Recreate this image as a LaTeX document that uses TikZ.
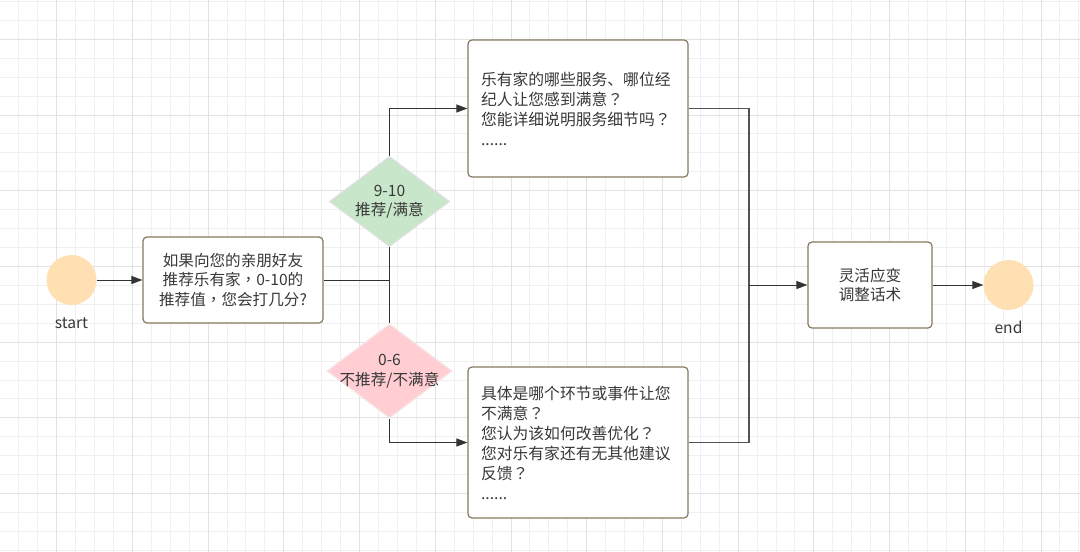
\documentclass[tikz,border=0pt]{standalone}
\usepackage{fontspec}
\setmainfont{Noto Sans CJK SC}
\newfontfamily\tcpunct{Noto Sans CJK TC}
\newcommand{\fq}{{\tcpunct ？}}
\newcommand{\fc}{{\tcpunct ，}}
\usetikzlibrary{shapes.geometric,arrows.meta}
\definecolor{txt}{HTML}{383838}
\definecolor{boxline}{HTML}{857A60}
\definecolor{peach}{HTML}{FFE0B2}
\definecolor{gfill}{HTML}{C8E6C9}
\definecolor{pfill}{HTML}{FFCDD2}
\definecolor{gminor}{HTML}{F0F0F0}
\definecolor{gmajor}{HTML}{E2E2E2}
\definecolor{conn}{HTML}{333333}
\tikzset{
  every node/.style={text=txt, font=\fontsize{15.6}{19.5}\selectfont},
  stepbox/.style={draw=boxline, line width=1.2pt, rounded corners=4pt, fill=white, inner sep=0pt},
  qbox/.style={stepbox, align=left, text width=194pt, inner xsep=13pt, inner ysep=0pt, minimum height=137pt, font=\fontsize{15.8}{20}\selectfont},
  endpt/.style={circle, fill=peach, minimum size=50pt, inner sep=0pt},
  decide/.style={diamond, inner sep=0pt, line width=1.2pt},
  conline/.style={draw=conn, line width=1pt},
  arr/.style={conline, -{Triangle[length=11pt,width=8pt]}},
}
\begin{document}
\begin{tikzpicture}[x=1pt,y=-1pt]
\useasboundingbox (0,0) rectangle (1080,552);
\fill[white] (0,0) rectangle (1080,552);
% grid
\foreach \i in {0,...,57} \draw[gminor, line width=1pt] ({-0.1+18.93*\i},0) -- ++(0,552);
\foreach \i in {0,...,29} \draw[gminor, line width=1pt] (0,{1.44+18.93*\i}) -- ++(1080,0);
\foreach \i in {0,...,13} \draw[gmajor, line width=1pt] ({56.7+75.72*\i},0) -- ++(0,552);
\foreach \i in {0,...,6} \draw[gmajor, line width=1pt] (0,{39.3+75.72*\i}) -- ++(1080,0);

% nodes
\node[endpt] (start) at (71.5,280) {};
\node (startlbl) at (71.5,323) {start};
\node[stepbox, minimum width=180pt, minimum height=86pt, align=center] (q) at (233,280)
  {如果向您的亲朋好友\\推荐乐有家\fc 0-10的\\推荐值\fc 您会打几分?};
\node[decide, fill=gfill, draw=gray!25, minimum width=120pt, minimum height=90pt,
  label={[align=center, text=txt, font=\fontsize{15.6}{19.5}\selectfont]center:9-10\\推荐/满意}] (top) at (389.5,201.5) {};
\node[decide, fill=pfill, draw=pfill!80!gray!40, minimum width=125pt, minimum height=94pt,
  label={[align=center, text=txt, font=\fontsize{15.6}{19.5}\selectfont]center:0-6\\不推荐/不满意}] (bot) at (389.5,371) {};
\node[qbox] (sat) at (578,108.5)
  {乐有家的哪些服务、哪位经\\纪人让您感到满意\fq\\您能详细说明服务细节吗\fq\\......};
\node[qbox, minimum height=151pt] (dis) at (578,442.5)
  {具体是哪个环节或事件让您\\不满意\fq\\您认为该如何改善优化\fq\\您对乐有家还有无其他建议\\反馈\fq\\......};
\node[stepbox, minimum width=124pt, minimum height=86pt, align=center] (adj) at (870,285)
  {灵活应变\\调整话术};
\node[endpt] (end) at (1008.5,285) {};
\node (endlbl) at (1008.5,327) {end};

\coordinate (split) at (389.5,280);
\coordinate (merge) at (749,285);

% connectors
\draw[arr] (start) -- (q);
\draw[conline] (q.east) -- (split);
\draw[conline] (top.south) -- (bot.north);
\draw[arr] (top.north) |- (sat.west);
\draw[arr] (bot.south) |- (dis.west);
\draw[conline, draw=conn!85, line width=1.5pt] (sat.east) -| (merge);
\draw[conline, draw=conn!85, line width=1.5pt] (dis.east) -| (merge);
\draw[arr] (merge) -- (adj.west);
\draw[arr] (adj.east) -- (end);
\end{tikzpicture}
\end{document}
